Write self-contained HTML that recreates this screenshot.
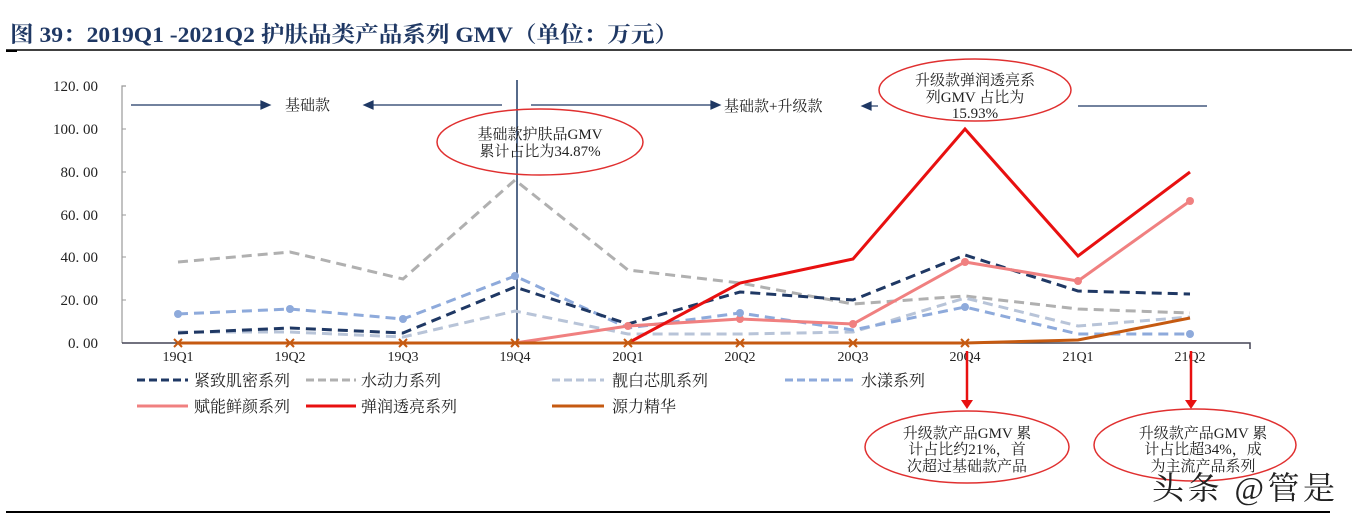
<!DOCTYPE html><html><head><meta charset="utf-8"><style>body{margin:0;background:#fff}svg{display:block}text{font-family:"Liberation Serif","Noto Serif CJK SC",serif}</style></head><body>
<svg width="1352" height="518" xmlns="http://www.w3.org/2000/svg">
<text x="10" y="42" font-size="22" fill="#1f3864" font-weight="bold" textLength="668" lengthAdjust="spacingAndGlyphs">图 39：2019Q1 -2021Q2 护肤品类产品系列 GMV（单位：万元）</text>
<line x1="6" y1="50" x2="1352" y2="50" stroke="#000" stroke-width="1.5"/>
<line x1="6" y1="51" x2="17" y2="51" stroke="#000" stroke-width="2"/>
<line x1="6" y1="512" x2="1330" y2="512" stroke="#000" stroke-width="2"/>
<g font-size="15" fill="#222" text-anchor="end">
<text x="98" y="91">120. 00</text><text x="98" y="134">100. 00</text><text x="98" y="177">80. 00</text><text x="98" y="220">60. 00</text><text x="98" y="262">40. 00</text><text x="98" y="305">20. 00</text><text x="98" y="348">0. 00</text></g>
<path d="M126 86H122V343" fill="none" stroke="#999" stroke-width="1.2"/>
<g stroke="#999"><line x1="122" y1="129" x2="126" y2="129"/><line x1="122" y1="172" x2="126" y2="172"/><line x1="122" y1="215" x2="126" y2="215"/><line x1="122" y1="257" x2="126" y2="257"/><line x1="122" y1="300" x2="126" y2="300"/></g>
<path d="M122 343H1250V349" fill="none" stroke="#445" stroke-width="1.5"/>
<g font-size="14" fill="#222" text-anchor="middle">
<text x="178" y="361">19Q1</text><text x="290" y="361">19Q2</text><text x="403" y="361">19Q3</text><text x="515" y="361">19Q4</text><text x="628" y="361">20Q1</text><text x="740" y="361">20Q2</text><text x="853" y="361">20Q3</text><text x="965" y="361">20Q4</text><text x="1078" y="361">21Q1</text><text x="1190" y="361">21Q2</text></g>
<line x1="517" y1="80" x2="517" y2="343" stroke="#1f3864" stroke-width="1.5"/>
<g stroke="#1f3864" stroke-width="1.2" fill="#1f3864">
<line x1="131" y1="105" x2="262" y2="105"/><path d="M270 105l-9-4v8z"/>
<line x1="372" y1="105" x2="502" y2="105"/><path d="M364 105l9-4v8z"/>
<line x1="531" y1="105" x2="712" y2="105"/><path d="M720 105l-9-4v8z"/>
<line x1="870" y1="106" x2="878" y2="106"/><path d="M862 106l9-4v8z"/>
<line x1="1078" y1="106" x2="1207" y2="106"/></g>
<g font-size="15" fill="#222"><text x="285" y="110">基础款</text><text x="724" y="111">基础款+升级款</text></g>
<g fill="none" stroke-width="3">
<polyline stroke="#b0b0b0" stroke-dasharray="10,6" points="178,262 290,252 403,279 515,180 628,270 740,283 853,304 965,296 1078,309 1190,313"/>
<polyline stroke="#b8c4d8" stroke-dasharray="10,6" points="178,332 290,332 403,337 515,311 628,334 740,334 853,332 965,298 1078,326 1190,317"/>
<polyline stroke="#8eaadb" stroke-dasharray="10,6" points="178,314 290,309 403,319 515,276 628,328 740,313 853,330 965,307 1078,334 1190,334"/>
<polyline stroke="#1f3864" stroke-dasharray="10,6" points="178,333 290,328 403,333 515,287 628,324 740,292 853,300 965,255 1078,291 1190,294"/>
<polyline stroke="#f08080" points="178,343 290,343 403,343 515,343 628,326 740,319 853,324 965,262 1078,281 1190,201"/>
<polyline stroke="#e81010" points="628,343 740,283 853,259 965,129 1078,256 1190,172"/>
<polyline stroke="#c55a11" points="178,343 290,343 403,343 515,343 628,343 740,343 853,343 965,343 1078,340 1190,318"/>
</g>
<g fill="#f08080"><circle cx="628" cy="326" r="4"/><circle cx="740" cy="319" r="4"/><circle cx="853" cy="324" r="4"/><circle cx="965" cy="262" r="4"/><circle cx="1078" cy="281" r="4"/><circle cx="1190" cy="201" r="4"/></g>
<g fill="#8eaadb"><circle cx="178" cy="314" r="4"/><circle cx="290" cy="309" r="4"/><circle cx="403" cy="319" r="4"/><circle cx="515" cy="276" r="4"/><circle cx="740" cy="313" r="4"/><circle cx="965" cy="307" r="4"/><circle cx="1190" cy="334" r="4"/></g>
<g stroke="#c55a11" stroke-width="2"><path d="M174 339l8 8M182 339l-8 8M286 339l8 8M294 339l-8 8M399 339l8 8M407 339l-8 8M511 339l8 8M519 339l-8 8M624 339l8 8M632 339l-8 8M736 339l8 8M744 339l-8 8M849 339l8 8M857 339l-8 8M961 339l8 8M969 339l-8 8"/></g>
<g stroke="#e81010" stroke-width="2.5"><line x1="967" y1="351" x2="967" y2="402"/><line x1="1191" y1="351" x2="1191" y2="402"/></g>
<g fill="#e81010"><path d="M961 400h12l-6 9z"/><path d="M1185 400h12l-6 9z"/></g>
<g fill="none" stroke="#e03030" stroke-width="1.5">
<ellipse cx="540" cy="142" rx="103" ry="33"/><ellipse cx="975" cy="90" rx="96" ry="31"/><ellipse cx="967" cy="447" rx="102" ry="36"/><ellipse cx="1195" cy="445" rx="101" ry="36"/></g>
<g font-size="15" fill="#222" text-anchor="middle">
<text x="540" y="139">基础款护肤品GMV</text><text x="540" y="156">累计占比为34.87%</text>
<text x="975" y="85">升级款弹润透亮系</text><text x="975" y="102">列GMV 占比为</text><text x="975" y="118">15.93%</text>
<text x="967" y="438">升级款产品GMV 累</text><text x="967" y="454">计占比约21%，首</text><text x="967" y="471">次超过基础款产品</text>
<text x="1203" y="438">升级款产品GMV 累</text><text x="1203" y="454">计占比超34%，成</text><text x="1203" y="471">为主流产品系列</text></g>
<g font-size="16" fill="#222">
<text x="194" y="386">紧致肌密系列</text><text x="361" y="386">水动力系列</text><text x="612" y="386">靓白芯肌系列</text><text x="861" y="386">水漾系列</text>
<text x="194" y="412">赋能鲜颜系列</text><text x="361" y="412">弹润透亮系列</text><text x="612" y="412">源力精华</text></g>
<g stroke-width="3" fill="none">
<line x1="137" y1="380" x2="188" y2="380" stroke="#1f3864" stroke-dasharray="8,4"/>
<line x1="306" y1="380" x2="356" y2="380" stroke="#b0b0b0" stroke-dasharray="8,4"/>
<line x1="552" y1="380" x2="604" y2="380" stroke="#b8c4d8" stroke-dasharray="8,4"/>
<line x1="785" y1="380" x2="855" y2="380" stroke="#8eaadb" stroke-dasharray="8,4"/>
<line x1="137" y1="406" x2="188" y2="406" stroke="#f08080"/>
<line x1="306" y1="406" x2="356" y2="406" stroke="#e81010"/>
<line x1="552" y1="406" x2="604" y2="406" stroke="#c55a11"/></g>
<text x="1152" y="499" font-size="32" fill="#222" font-family="Liberation Sans,Noto Sans CJK SC,sans-serif" textLength="183">头条 @管是</text>
</svg></body></html>
